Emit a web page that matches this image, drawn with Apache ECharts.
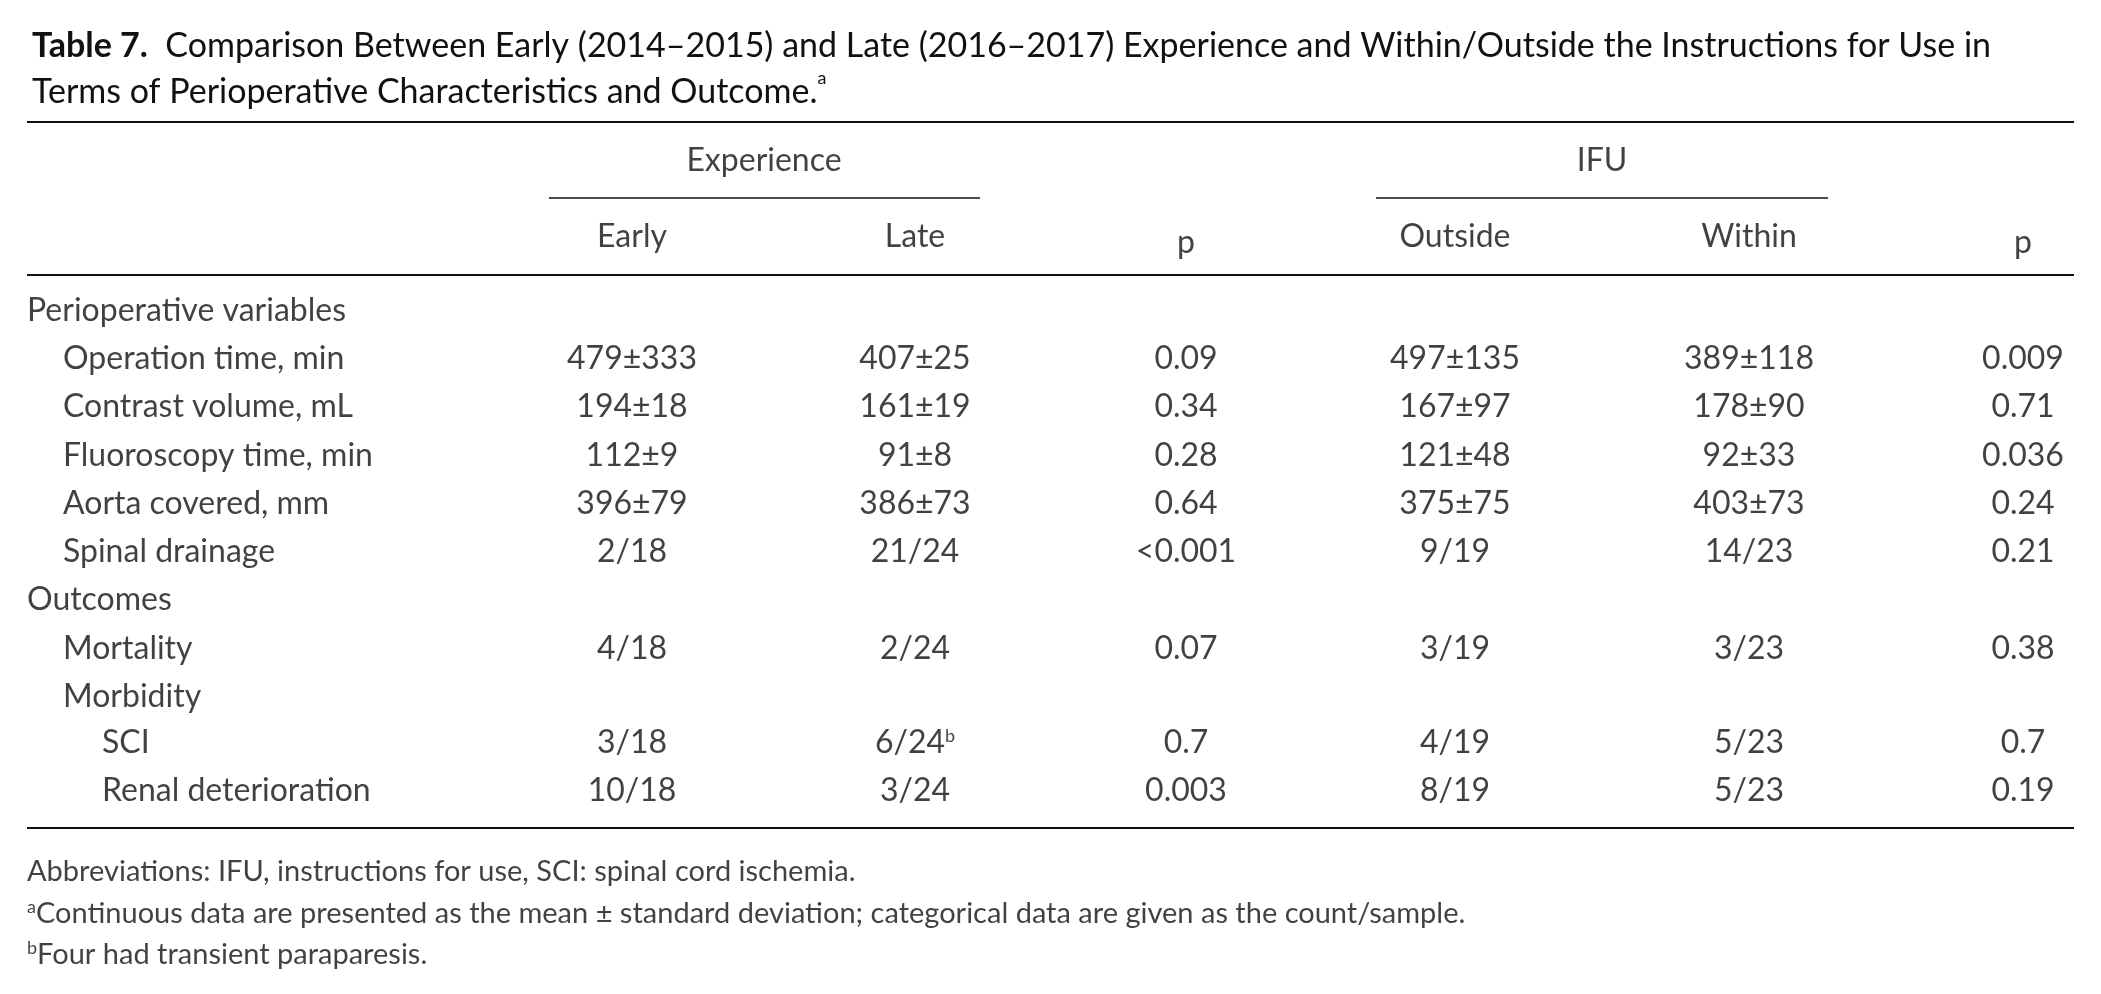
<!DOCTYPE html>
<html>
<head>
<meta charset="utf-8">
<script src="https://cdn.jsdelivr.net/npm/echarts@6/dist/echarts.min.js"></script>
<style>html,body{margin:0;padding:0;background:#fff}#main{width:2101px;height:994px}</style>
</head>
<body>
<div id="main"></div>
<script>
var chartDom = document.getElementById('main');
var myChart = echarts.init(chartDom);

// table content
var rowLabels = ['Perioperative variables', 'Operation time, min', 'Contrast volume, mL', 'Fluoroscopy time, min',
  'Aorta covered, mm', 'Spinal drainage', 'Outcomes', 'Mortality', 'Morbidity', 'SCI', 'Renal deterioration'];
var rowLevels = [0, 1, 1, 1, 1, 1, 0, 1, 1, 2, 2];
var early = ['', '479±333', '194±18', '112±9', '396±79', '2/18', '', '4/18', '', '3/18', '10/18'];
var late = ['', '407±25', '161±19', '91±8', '386±73', '21/24', '', '2/24', '', '6/24{sup|b}', '3/24'];
var pExp = ['', '0.09', '0.34', '0.28', '0.64', '<0.001', '', '0.07', '', '0.7', '0.003'];
var outside = ['', '497±135', '167±97', '121±48', '375±75', '9/19', '', '3/19', '', '4/19', '8/19'];
var within = ['', '389±118', '178±90', '92±33', '403±73', '14/23', '', '3/23', '', '5/23', '5/23'];
var pIfu = ['', '0.009', '0.71', '0.036', '0.24', '0.21', '', '0.38', '', '0.7', '0.19'];
var colHeads = ['Early', 'Late', 'p', 'Outside', 'Within', 'p'];
var groupHeads = ['Experience', 'IFU'];
var footnotes = [
  'Abbreviations: IFU, instructions for use, SCI: spinal cord ischemia.',
  '{sup|a}Continuous data are presented as the mean ± standard deviation; categorical data are given as the count/sample.',
  '{sup|b}Four had transient paraparesis.'
];

// layout
var colX = [632, 915, 1186, 1455, 1749, 2023];
var rowY = [311, 359, 407, 456, 504, 552, 600, 649, 697, 743, 791];
var indentX = [27, 63, 102];
var font = 'Lato, "Open Sans", sans-serif';
var ink = '#111';
var fs = 32;
var rich = { sup: { fontSize: 18, verticalAlign: 'top', padding: [0, 0, 14, 0], color: ink, fontFamily: font } };

function textPoint(x, y, t, align, extra) {
  return {
    value: [x, y],
    label: Object.assign({
      show: true, position: 'inside', formatter: t, align: align || 'center',
      verticalAlign: 'middle', fontSize: fs, color: ink, fontFamily: font, rich: rich
    }, extra || {})
  };
}

var pts = [];
rowLabels.forEach(function (l, i) {
  pts.push(textPoint(indentX[rowLevels[i]], rowY[i], l, 'left'));
  [early, late, pExp, outside, within, pIfu].forEach(function (col, c) {
    if (col[i]) pts.push(textPoint(colX[c], rowY[i], col[i]));
  });
});
colHeads.forEach(function (h, c) { pts.push(textPoint(colX[c], c == 2 || c == 5 ? 243 : 237, h)); });
pts.push(textPoint(764, 161, groupHeads[0]));
pts.push(textPoint(1602, 161, groupHeads[1]));
var footY = [872, 914, 955];
footnotes.forEach(function (f, i) { pts.push(textPoint(27, footY[i], f, 'left', { fontSize: 29 })); });

function hline(x1, x2, y, w) {
  return [{ coord: [x1, y], lineStyle: { width: w, color: ink, type: 'solid' } }, { coord: [x2, y] }];
}

var option = {
  animation: false,
  title: {
    left: 27, top: 18,
    text: '{b|Table 7.}  Comparison Between Early (2014–2015) and Late (2016–2017) Experience and Within/Outside the Instructions for Use in\nTerms of Perioperative Characteristics and Outcome.{sup|a}',
    textStyle: {
      fontSize: 34, fontWeight: 'normal', color: ink, fontFamily: font, lineHeight: 46,
      rich: { b: { fontWeight: 'bold', fontSize: 34, color: ink, fontFamily: font }, sup: rich.sup }
    }
  },
  grid: { left: 0, right: 0, top: 0, bottom: 0 },
  xAxis: { type: 'value', min: 0, max: 2101, show: false },
  yAxis: { type: 'value', min: 0, max: 994, inverse: true, show: false },
  series: [{
    type: 'scatter', symbolSize: 0, data: pts, silent: true,
    markLine: {
      symbol: 'none', silent: true, label: { show: false },
      lineStyle: { type: 'solid', color: ink },
      data: [
        hline(27, 2074, 122, 2), hline(549, 980, 198, 1.5), hline(1376, 1828, 198, 1.5),
        hline(27, 2074, 275, 2), hline(27, 2074, 828, 2)
      ]
    }
  }]
};

option && myChart.setOption(option);
</script>
</body>
</html>
